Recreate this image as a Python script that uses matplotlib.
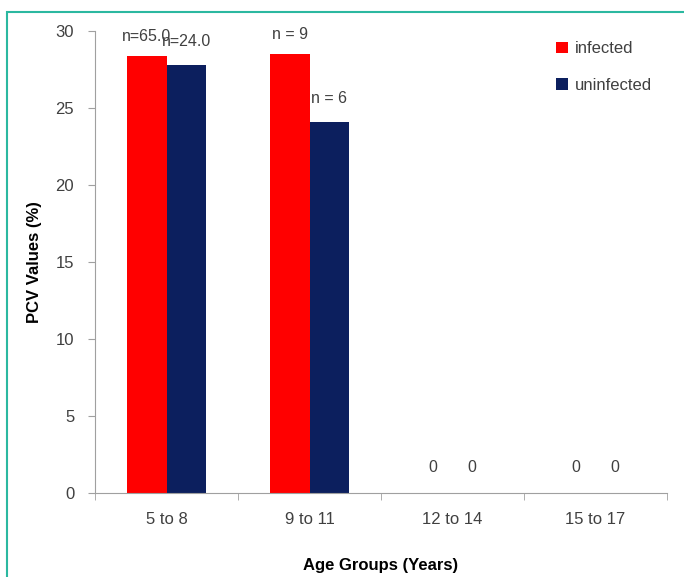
import matplotlib
matplotlib.use("Agg")
import matplotlib.pyplot as plt
from matplotlib.patches import Rectangle
import numpy as np

plt.rcParams['font.family'] = ['Liberation Sans', 'DejaVu Sans']

groups = ['5 to 8', '9 to 11', '12 to 14', '15 to 17']
infected = [28.4, 28.5, 0, 0]
uninfected = [27.8, 24.1, 0, 0]
infected_labels = ['n=65.0', 'n = 9', '0', '0']
uninfected_labels = ['n=24.0', 'n = 6', '0', '0']

red = '#ff0000'
navy = '#0c1f5e'
grey = '#404040'

fig = plt.figure(figsize=(6.84, 5.77), dpi=100)
ax = fig.add_axes([0.139, 0.1456, 0.836, 0.8005])

x = np.arange(len(groups))
w = 0.275
b1 = ax.bar(x - w / 2, infected, w, color=red, label='infected')
b2 = ax.bar(x + w / 2, uninfected, w, color=navy, label='uninfected')

for bars, labels, dy in ((b1, infected_labels, 14), (b2, uninfected_labels, 17)):
    for rect, lab in zip(bars, labels):
        h = rect.get_height()
        off = dy if h > 0 else 18
        ax.annotate(lab, (rect.get_x() + rect.get_width() / 2, h),
                    xytext=(0, off), textcoords='offset points',
                    ha='center', va='center', fontsize=11.5, color=grey)

ax.set_xlim(-0.5, len(groups) - 0.5)
ax.set_ylim(0, 30)
ax.set_yticks([0, 5, 10, 15, 20, 25, 30])
ax.set_xticks(x)
ax.set_xticklabels(groups)
ax.set_xticks(np.arange(-0.5, len(groups)), minor=True)
ax.tick_params(axis='x', which='major', length=0, pad=14, labelsize=12, labelcolor=grey)
ax.tick_params(axis='x', which='minor', length=5, color='#a0a0a0', direction='out')
ax.tick_params(axis='y', length=5, color='#a0a0a0', pad=10, labelsize=12, labelcolor=grey)

for s in ('top', 'right'):
    ax.spines[s].set_visible(False)
for s in ('left', 'bottom'):
    ax.spines[s].set_color('#a0a0a0')

ax.set_ylabel('PCV Values (%)', fontsize=12, fontweight='bold', labelpad=10)
ax.set_xlabel('Age Groups (Years)', fontsize=12, fontweight='bold', labelpad=22)

leg = ax.legend(loc='upper right', bbox_to_anchor=(1.0, 1.01), frameon=False,
                fontsize=12, handlelength=0.7, handleheight=0.7,
                labelspacing=1.3, handletextpad=0.4, labelcolor=grey)

# outer frame
fig.patches.append(Rectangle((7 / 684, -0.05), 1.0, 1 - 12 / 577 + 0.05,
                             transform=fig.transFigure, fill=False,
                             edgecolor='#2bb8a0', linewidth=1.5))

fig.savefig('out.png', dpi=100)
